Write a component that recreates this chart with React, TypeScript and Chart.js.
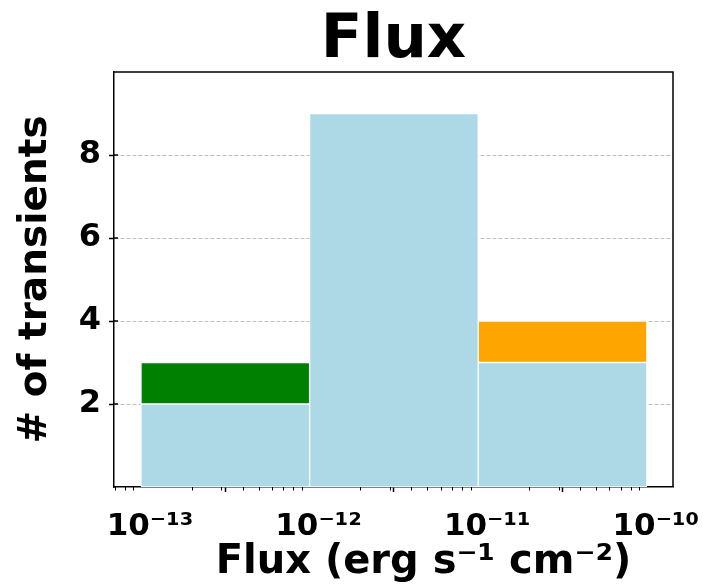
import React, { useEffect, useRef } from 'react';
import { Chart, registerables } from 'chart.js';

Chart.register(...registerables);

// ---- data ----
const binEdges = [1e-13, 1e-12, 1e-11, 1e-10];
const baseCounts = [2, 9, 3];
const greenCounts = [1, 0, 0];
const orangeCounts = [0, 0, 1];

const xTickValues = [1e-13, 1e-12, 1e-11, 1e-10];
const xTickLabels = ['10⁻¹³', '10⁻¹²', '10⁻¹¹', '10⁻¹⁰'];
const yTickValues = [2, 4, 6, 8];
const yTickLabels = ['2', '4', '6', '8'];
const minorMultipliers = [2, 3, 4, 5, 6, 7, 8, 9];
const minorDecades = [-14, -13, -12, -11, -10];

const chartTitle = 'Flux';
const xAxisTitle = 'Flux (erg s⁻¹ cm⁻²)';
const yAxisTitle = '# of transients';

const X_MIN = Math.pow(10, -13.16);
const X_MAX = Math.pow(10, -9.845);

const FONT = 'DejaVu Sans';

const centers = baseCounts.map((_, i) => Math.sqrt(binEdges[i] * binEdges[i + 1]));
const toPoints = (arr: number[]) =>
  arr.map((v, i) => ({ x: centers[i], y: v === 0 ? null : v }));

const framePlugin = {
  id: 'frameAndMinor',
  afterDraw(chart: any) {
    const { ctx, chartArea: a, scales } = chart;
    ctx.save();
    ctx.strokeStyle = '#000';
    ctx.lineWidth = 1.5;
    ctx.setLineDash([]);
    ctx.beginPath();
    ctx.moveTo(a.left, a.top);
    ctx.lineTo(a.right, a.top);
    ctx.lineTo(a.right, a.bottom);
    ctx.stroke();
    const xs = scales.x;
    ctx.lineWidth = 1;
    for (const e of minorDecades) {
      for (const m of minorMultipliers) {
        const v = m * Math.pow(10, e);
        if (v < xs.min || v > xs.max) continue;
        const px = Math.round(xs.getPixelForValue(v)) + 0.5;
        ctx.beginPath();
        ctx.moveTo(px, a.bottom);
        ctx.lineTo(px, a.bottom + 3.5);
        ctx.stroke();
      }
    }
    const ys = scales.y;
    ctx.lineWidth = 1.5;
    for (const v of yTickValues) {
      const py = ys.getPixelForValue(v);
      ctx.beginPath();
      ctx.moveTo(a.left, py);
      ctx.lineTo(a.left + 4, py);
      ctx.stroke();
    }
    // x-axis title (offset like the reference's layout)
    ctx.fillStyle = '#000';
    ctx.font = `bold 40px "${FONT}"`;
    ctx.textAlign = 'center';
    ctx.textBaseline = 'alphabetic';
    ctx.fillText(xAxisTitle, (a.left + a.right) / 2 + 30, a.bottom + 86);
    ctx.restore();
  },
};

export default function App() {
  const ref = useRef<HTMLCanvasElement>(null);
  useEffect(() => {
    document.body.style.margin = '0';
    const common = {
      borderColor: '#ffffff',
      borderWidth: 1,
      borderSkipped: false,
      barPercentage: 1,
      categoryPercentage: 1,
    };
    const chart = new Chart(ref.current as HTMLCanvasElement, {
      type: 'bar',
      data: {
        datasets: [
          { label: 'All', data: toPoints(baseCounts), backgroundColor: '#add8e6', ...common },
          { label: 'Group A', data: toPoints(greenCounts), backgroundColor: '#008000', ...common },
          { label: 'Group B', data: toPoints(orangeCounts), backgroundColor: '#ffa500', ...common },
        ] as any,
      },
      options: {
        responsive: false,
        animation: false,
        devicePixelRatio: 1,
        events: [],
        layout: { padding: { left: 0, right: 35, top: 0, bottom: 0 } },
        plugins: {
          legend: { display: false },
          tooltip: { enabled: false },
          title: {
            display: true,
            fullSize: false,
            text: chartTitle,
            color: '#000',
            font: { family: FONT, size: 61, weight: 'bold', lineHeight: 1 },
            padding: { top: 11, bottom: 0 },
          },
        },
        scales: {
          x: {
            type: 'logarithmic',
            stacked: true,
            min: X_MIN,
            max: X_MAX,
            bounds: 'data',
            z: 1,
            afterBuildTicks: (s: any) => {
              s.ticks = xTickValues.map((v) => ({ value: v }));
            },
            afterFit: (s: any) => {
              s.height = 101;
            },
            ticks: {
              autoSkip: false,
              maxRotation: 0,
              minRotation: 0,
              padding: 16,
              labelOffset: 9,
              color: '#000',
              font: { family: FONT, size: 31, weight: 'bold' },
              callback: (_v: any, i: number) => xTickLabels[i],
            },
            grid: {
              drawOnChartArea: false,
              drawTicks: true,
              tickLength: 5,
              tickColor: '#000',
              tickWidth: 1.5,
              color: '#000',
            },
            border: { display: true, color: '#000', width: 1.5 },
            title: { display: false },
          } as any,
          y: {
            stacked: true,
            min: 0,
            max: 10,
            afterBuildTicks: (s: any) => {
              s.ticks = yTickValues.map((v) => ({ value: v }));
            },
            afterFit: (s: any) => {
              s.width = 114;
            },
            ticks: {
              padding: 8,
              color: '#000',
              font: { family: FONT, size: 32, weight: 'bold' },
              callback: (_v: any, i: number) => yTickLabels[i],
            },
            grid: {
              drawOnChartArea: true,
              color: 'rgba(0,0,0,0.25)',
              lineWidth: 1,
              tickLength: 5,
              tickColor: '#000',
              tickWidth: 1.5,
              tickBorderDash: [],
            },
            border: { display: true, color: '#000', width: 1.5, dash: [4, 2] },
            title: {
              display: true,
              text: yAxisTitle,
              color: '#000',
              font: { family: FONT, size: 39, weight: 'bold', lineHeight: 1.2 },
              padding: { top: 12.5, bottom: 0 },
            },
          } as any,
        },
      },
      plugins: [framePlugin],
    });
    return () => chart.destroy();
  }, []);
  return (
    <div style={{ position: 'fixed', left: 0, top: 0, width: 708, height: 588, background: '#fff' }}>
      <canvas ref={ref} width={708} height={588} style={{ display: 'block', width: 708, height: 588 }} />
    </div>
  );
}
